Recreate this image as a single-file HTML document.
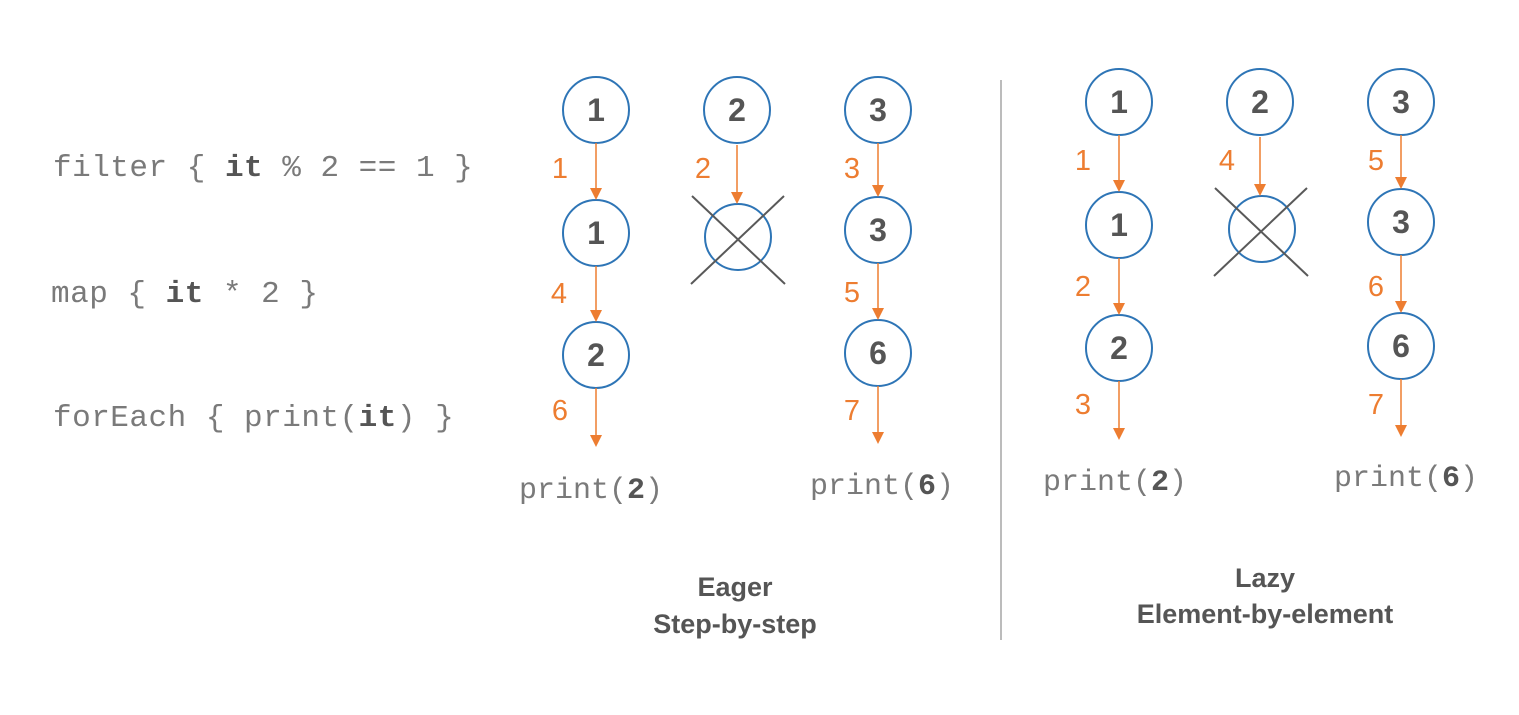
<!DOCTYPE html>
<html><head><style>body{margin:0;background:#fff}svg{display:block}</style></head><body>
<svg width="1519" height="715" viewBox="0 0 1519 715" xmlns="http://www.w3.org/2000/svg">
<g font-family="Liberation Mono, monospace" font-size="31" fill="#7a7a7a">
<text x="53" y="176" letter-spacing="0.5">filter { <tspan font-weight="bold" fill="#555">it</tspan> % 2 == 1 }</text>
<text x="51" y="302" letter-spacing="0.5">map { <tspan font-weight="bold" fill="#555">it</tspan> * 2 }</text>
<text x="53" y="426" letter-spacing="0.5">forEach { print(<tspan font-weight="bold" fill="#555">it</tspan>) }</text>
<g font-size="30">
<text x="519" y="498">print(<tspan font-weight="bold" fill="#555">2</tspan>)</text>
<text x="810" y="494">print(<tspan font-weight="bold" fill="#555">6</tspan>)</text>
<text x="1043" y="490">print(<tspan font-weight="bold" fill="#555">2</tspan>)</text>
<text x="1334" y="486">print(<tspan font-weight="bold" fill="#555">6</tspan>)</text>
</g></g>
<g fill="#fff" stroke="#2E75B6" stroke-width="2">
<circle cx="596" cy="110" r="33"/><circle cx="737" cy="110" r="33"/><circle cx="878" cy="110" r="33"/>
<circle cx="596" cy="233" r="33"/><circle cx="738" cy="237" r="33"/><circle cx="878" cy="230" r="33"/>
<circle cx="596" cy="355" r="33"/><circle cx="878" cy="353" r="33"/>
<circle cx="1119" cy="102" r="33"/><circle cx="1260" cy="102" r="33"/><circle cx="1401" cy="102" r="33"/>
<circle cx="1119" cy="225" r="33"/><circle cx="1262" cy="229" r="33"/><circle cx="1401" cy="222" r="33"/>
<circle cx="1119" cy="348" r="33"/><circle cx="1401" cy="346" r="33"/>
</g>
<g stroke="#595959" stroke-width="2">
<line x1="692" y1="196" x2="785" y2="284"/><line x1="784" y1="196" x2="691" y2="284"/>
<line x1="1215" y1="188" x2="1308" y2="276"/><line x1="1307" y1="188" x2="1214" y2="276"/>
<line x1="1001" y1="80" x2="1001" y2="640" stroke="#A6A6A6" stroke-width="1.5"/>
</g>
<g font-family="Liberation Sans, sans-serif" font-weight="bold" font-size="32" fill="#555" text-anchor="middle">
<text x="596" y="121">1</text><text x="737" y="121">2</text><text x="878" y="121">3</text>
<text x="596" y="244">1</text><text x="878" y="241">3</text>
<text x="596" y="366">2</text><text x="878" y="364">6</text>
<text x="1119" y="113">1</text><text x="1260" y="113">2</text><text x="1401" y="113">3</text>
<text x="1119" y="236">1</text><text x="1401" y="233">3</text>
<text x="1119" y="359">2</text><text x="1401" y="357">6</text>
<g font-size="27"><text x="735" y="596">Eager</text><text x="735" y="633">Step-by-step</text>
<text x="1265" y="587">Lazy</text><text x="1265" y="623">Element-by-element</text></g>
</g>
<g stroke="#ED7D31" stroke-width="1.5">
<line x1="596" y1="143" x2="596" y2="190"/><line x1="737" y1="145" x2="737" y2="194"/><line x1="878" y1="143" x2="878" y2="187"/>
<line x1="596" y1="266" x2="596" y2="312"/><line x1="878" y1="263" x2="878" y2="310"/>
<line x1="596" y1="388" x2="596" y2="437"/><line x1="878" y1="386" x2="878" y2="434"/>
<line x1="1119" y1="135" x2="1119" y2="182"/><line x1="1260" y1="137" x2="1260" y2="186"/><line x1="1401" y1="135" x2="1401" y2="179"/>
<line x1="1119" y1="258" x2="1119" y2="305"/><line x1="1401" y1="255" x2="1401" y2="303"/>
<line x1="1119" y1="381" x2="1119" y2="430"/><line x1="1401" y1="379" x2="1401" y2="427"/>
</g>
<g fill="#ED7D31">
<path d="M590,188h12l-6,12z"/><path d="M731,192h12l-6,12z"/><path d="M872,185h12l-6,12z"/>
<path d="M590,310h12l-6,12z"/><path d="M872,308h12l-6,12z"/>
<path d="M590,435h12l-6,12z"/><path d="M872,432h12l-6,12z"/>
<path d="M1113,180h12l-6,12z"/><path d="M1254,184h12l-6,12z"/><path d="M1395,177h12l-6,12z"/>
<path d="M1113,303h12l-6,12z"/><path d="M1395,301h12l-6,12z"/>
<path d="M1113,428h12l-6,12z"/><path d="M1395,425h12l-6,12z"/>
</g>
<g font-family="Liberation Sans, sans-serif" font-size="29" fill="#ED7D31" text-anchor="middle">
<text x="560" y="178">1</text><text x="703" y="178">2</text><text x="852" y="178">3</text>
<text x="559" y="303">4</text><text x="852" y="302">5</text>
<text x="560" y="420">6</text><text x="852" y="420">7</text>
<text x="1083" y="170">1</text><text x="1227" y="170">4</text><text x="1376" y="170">5</text>
<text x="1083" y="296">2</text><text x="1376" y="296">6</text>
<text x="1083" y="414">3</text><text x="1376" y="414">7</text>
</g>
</svg>
</body></html>
